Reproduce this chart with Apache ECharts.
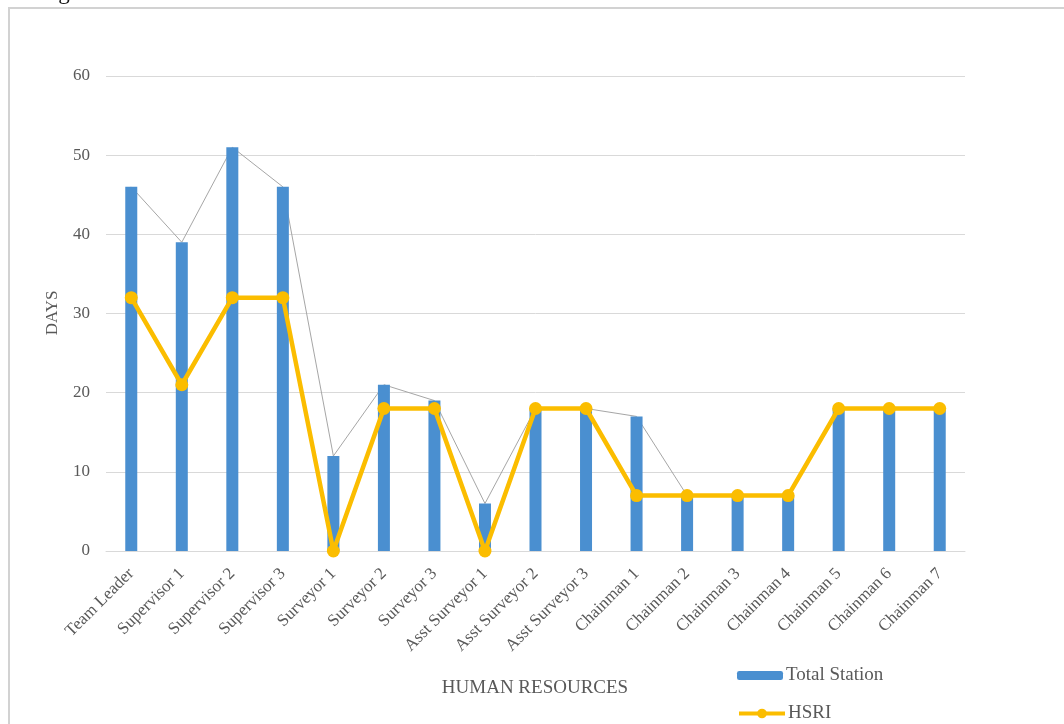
<!DOCTYPE html>
<html>
<head>
<meta charset="utf-8">
<script src="https://cdn.jsdelivr.net/npm/echarts@6/dist/echarts.min.js"></script>
<style>
  html, body { margin: 0; padding: 0; background: #fff; }
  #chart { width: 1064px; height: 724px; }
</style>
</head>
<body>
<div id="chart"></div>
<script>
// Working days per team member, by survey method
const categories = [
  'Team Leader', 'Supervisor 1', 'Supervisor 2', 'Supervisor 3',
  'Surveyor 1', 'Surveyor 2', 'Surveyor 3',
  'Asst Surveyor 1', 'Asst Surveyor 2', 'Asst Surveyor 3',
  'Chainman 1', 'Chainman 2', 'Chainman 3', 'Chainman 4',
  'Chainman 5', 'Chainman 6', 'Chainman 7'
];
const totalStationDays = [46, 39, 51, 46, 12, 21, 19, 6, 18, 18, 17, 7, 7, 7, 18, 18, 18];
const hsriDays = [32, 21, 32, 32, 0, 18, 18, 0, 18, 18, 7, 7, 7, 7, 18, 18, 18];
const yTicks = { min: 0, max: 60, step: 10 };

const serif = '"Liberation Serif", "DejaVu Serif", serif';
const grey = '#595959';
const gold = '#fbbd00';
const blue = '#4a8fd0';

const legendText = { fontFamily: serif, fontSize: 19, color: grey, padding: [0, 0, 0, -2] };

const chart = echarts.init(document.getElementById('chart'), null, { renderer: 'canvas' });

chart.setOption({
  animation: false,
  backgroundColor: '#ffffff',
  grid: { left: 106, right: 99, top: 76, bottom: 173, containLabel: false },
  legend: [
    {
      left: 737, top: 666, padding: 0,
      itemWidth: 46, itemHeight: 9,
      data: ['Total Station'],
      textStyle: legendText
    },
    {
      left: 737, top: 704, padding: 0,
      itemWidth: 46, itemHeight: 12,
      data: [{ name: 'HSRI', lineStyle: { width: 4, color: gold } }],
      textStyle: legendText
    }
  ],
  xAxis: {
    type: 'category',
    data: categories,
    axisLine: { lineStyle: { color: '#d9d9d9', width: 1 } },
    axisTick: { show: false },
    axisLabel: {
      interval: 0,
      rotate: 45,
      margin: 20,
      fontFamily: serif,
      fontSize: 17,
      color: grey
    }
  },
  yAxis: {
    type: 'value',
    min: yTicks.min,
    max: yTicks.max,
    interval: yTicks.step,
    axisLine: { show: false },
    axisTick: { show: false },
    splitLine: { lineStyle: { color: '#d9d9d9', width: 1 } },
    axisLabel: { margin: 16, fontFamily: serif, fontSize: 17, color: grey }
  },
  series: [
    {
      // thin outline joining the Total Station values, hidden behind the bars
      name: 'Total Station trend',
      type: 'line',
      data: totalStationDays,
      symbol: 'none',
      lineStyle: { color: '#a6a6a6', width: 1 },
      z: 1
    },
    {
      name: 'Total Station',
      type: 'bar',
      data: totalStationDays,
      barWidth: 12,
      itemStyle: { color: blue },
      z: 2
    },
    {
      name: 'HSRI',
      type: 'line',
      data: hsriDays,
      symbol: 'circle',
      symbolSize: 13,
      lineStyle: { color: gold, width: 4.5 },
      itemStyle: { color: gold },
      z: 3
    }
  ],
  graphic: [
    {
      type: 'rect',
      silent: true,
      shape: { x: 9, y: 8, width: 1100, height: 800 },
      style: { fill: 'none', stroke: '#d2d2d2', lineWidth: 2 }
    },
    {
      type: 'text',
      left: 20,
      top: -19,
      silent: true,
      style: {
        text: 'using both the Total Station and HSRI method.',
        font: '23px ' + serif,
        fill: '#111111'
      }
    },
    {
      type: 'text',
      x: 53,
      y: 313,
      rotation: Math.PI / 2,
      silent: true,
      style: {
        text: 'DAYS',
        font: '17px ' + serif,
        fill: grey,
        align: 'center',
        verticalAlign: 'middle'
      }
    },
    {
      type: 'text',
      x: 535,
      y: 688,
      silent: true,
      style: {
        text: 'HUMAN RESOURCES',
        font: '19px ' + serif,
        fill: grey,
        align: 'center',
        verticalAlign: 'middle'
      }
    }
  ]
});
</script>
</body>
</html>
